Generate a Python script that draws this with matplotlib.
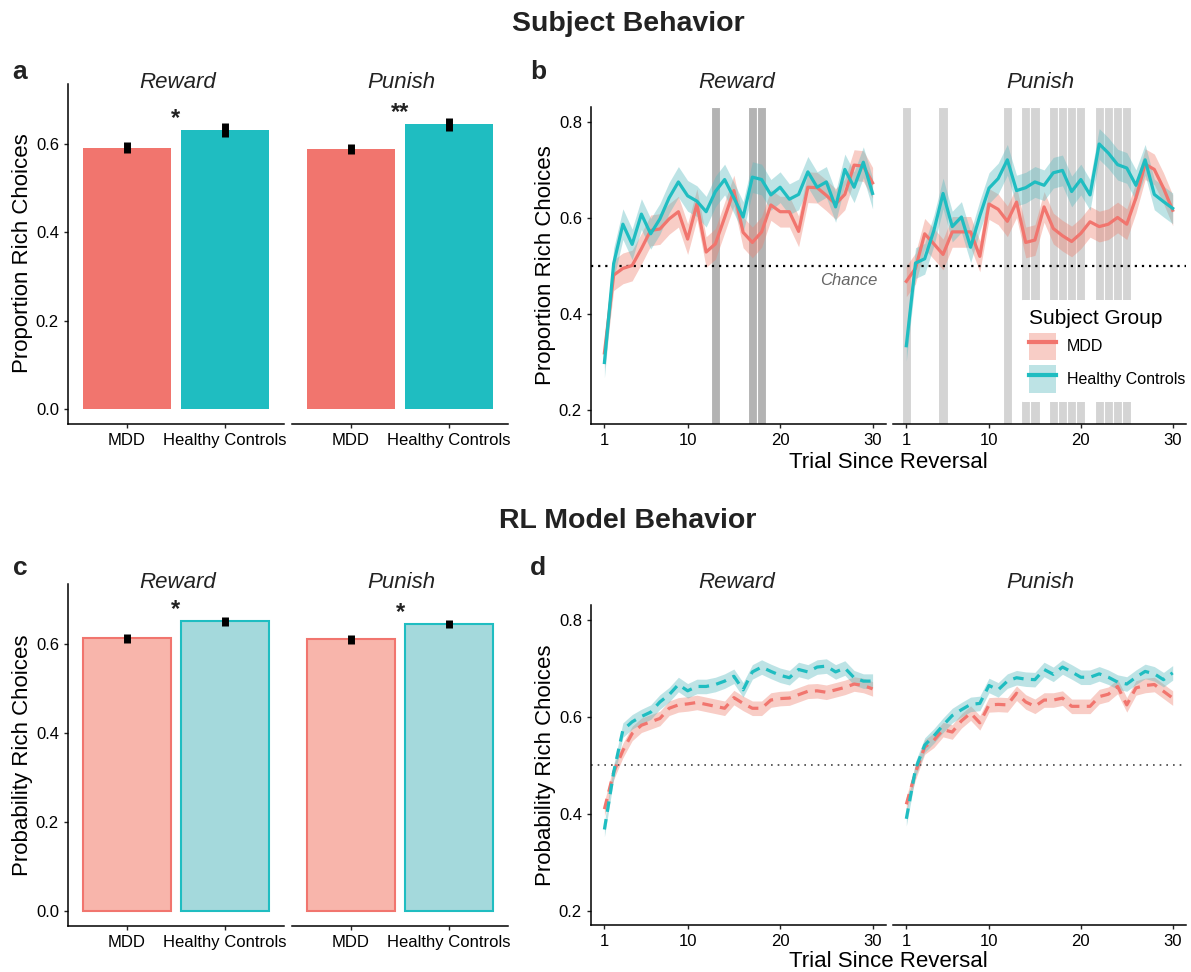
import matplotlib
matplotlib.use("Agg")
import matplotlib.pyplot as plt
import numpy as np
from matplotlib.patches import Patch
from matplotlib.lines import Line2D

plt.rcParams['font.family'] = ['Liberation Sans', 'DejaVu Sans']

# ---- data ----
groups = ['MDD', 'Healthy Controls']
conditions = ['Reward', 'Punish']
trials = np.arange(1, 31)

# panel a: observed proportion rich choices (mean, se)
subj_mean = {'Reward': [0.591, 0.631], 'Punish': [0.588, 0.644]}
subj_se = {'Reward': [0.012, 0.015], 'Punish': [0.012, 0.015]}
subj_stars = {'Reward': '*', 'Punish': '**'}

# panel c: model probability rich choices (mean, se)
model_mean = {'Reward': [0.613, 0.651], 'Punish': [0.611, 0.645]}
model_se = {'Reward': [0.010, 0.010], 'Punish': [0.010, 0.009]}
model_stars = {'Reward': '*', 'Punish': '*'}

# panel b: subject learning curves
subj_mdd_reward = [0.319, 0.481, 0.495, 0.501, 0.536, 0.574, 0.577, 0.598, 0.613, 0.556,
                   0.629, 0.529, 0.546, 0.601, 0.657, 0.570, 0.549, 0.571, 0.627, 0.613,
                   0.613, 0.572, 0.664, 0.663, 0.647, 0.629, 0.649, 0.710, 0.708, 0.673]
subj_hc_reward = [0.299, 0.505, 0.587, 0.545, 0.608, 0.567, 0.598, 0.642, 0.675, 0.646,
                  0.635, 0.613, 0.655, 0.680, 0.642, 0.602, 0.685, 0.680, 0.648, 0.664,
                  0.639, 0.649, 0.696, 0.664, 0.675, 0.623, 0.701, 0.664, 0.716, 0.651]
subj_mdd_punish = [0.468, 0.495, 0.567, 0.546, 0.524, 0.571, 0.571, 0.571, 0.520, 0.629,
                   0.618, 0.593, 0.633, 0.549, 0.554, 0.623, 0.578, 0.563, 0.551, 0.568,
                   0.592, 0.582, 0.587, 0.601, 0.587, 0.642, 0.712, 0.701, 0.662, 0.616]
subj_hc_punish = [0.334, 0.506, 0.515, 0.574, 0.651, 0.582, 0.602, 0.539, 0.604, 0.662,
                  0.682, 0.721, 0.657, 0.663, 0.675, 0.668, 0.694, 0.699, 0.655, 0.680,
                  0.648, 0.754, 0.735, 0.711, 0.704, 0.668, 0.721, 0.649, 0.634, 0.620]
subj_band = 0.032

# trials with significant group difference (shaded)
sig_reward = [13, 17, 18]
sig_punish = [1, 5, 12, 14, 15, 17, 18, 19, 20, 22, 23, 24, 25]

# panel d: model learning curves
model_mdd_reward = [0.410, 0.486, 0.531, 0.566, 0.583, 0.590, 0.597, 0.618, 0.625, 0.627,
                    0.630, 0.626, 0.622, 0.618, 0.640, 0.628, 0.618, 0.618, 0.635, 0.638,
                    0.639, 0.646, 0.653, 0.654, 0.651, 0.656, 0.661, 0.668, 0.665, 0.658]
model_hc_reward = [0.368, 0.486, 0.573, 0.590, 0.601, 0.610, 0.631, 0.646, 0.667, 0.654,
                   0.663, 0.663, 0.667, 0.674, 0.684, 0.656, 0.693, 0.703, 0.694, 0.686,
                   0.681, 0.698, 0.693, 0.703, 0.705, 0.693, 0.701, 0.681, 0.674, 0.674]
model_mdd_punish = [0.420, 0.486, 0.538, 0.552, 0.574, 0.569, 0.592, 0.608, 0.588, 0.625,
                    0.626, 0.625, 0.649, 0.631, 0.622, 0.635, 0.635, 0.639, 0.622, 0.622,
                    0.622, 0.642, 0.647, 0.663, 0.625, 0.660, 0.665, 0.667, 0.653, 0.639]
model_hc_punish = [0.390, 0.493, 0.542, 0.561, 0.583, 0.603, 0.615, 0.626, 0.628, 0.665,
                   0.656, 0.674, 0.681, 0.678, 0.677, 0.698, 0.688, 0.703, 0.693, 0.682,
                   0.682, 0.689, 0.682, 0.672, 0.668, 0.682, 0.694, 0.689, 0.677, 0.691]
model_band = 0.015

# ---- styling ----
red, teal = '#F1756E', '#1FBDC1'
red_rib, teal_rib = '#EE8272', '#5CBBC0'
red_light, teal_light = '#F8B5AB', '#A4D9DC'

W, H = 1191, 972
fig = plt.figure(figsize=(W / 100, H / 100), dpi=100)


def px_axes(l, t, r, b):
    return fig.add_axes([l / W, 1 - b / H, (r - l) / W, (b - t) / H])


def ftext(x, y, s, **kw):
    fig.text(x / W, 1 - y / H, s, **kw)


def style(ax, left=True):
    for s in ['top', 'right']:
        ax.spines[s].set_visible(False)
    ax.spines['left'].set_visible(left)
    ax.spines['bottom'].set_linewidth(1.1)
    ax.spines['left'].set_linewidth(1.1)
    ax.tick_params(labelsize=12, length=3, width=1, colors='#222222', labelcolor='black')
    if not left:
        ax.tick_params(axis='y', left=False, labelleft=False)


def bar_panel(top, bottom, means, ses, stars, light):
    xs = [(68, 284), (292, 508)]
    for i, cond in enumerate(conditions):
        ax = px_axes(xs[i][0], top, xs[i][1], bottom)
        if light:
            ax.bar([1, 2], means[cond], width=0.9, color=[red_light, teal_light],
                   edgecolor=[red, teal], linewidth=1.5)
        else:
            ax.bar([1, 2], means[cond], width=0.9, color=[red, teal])
        ax.errorbar([1, 2], means[cond], yerr=ses[cond], fmt='none',
                    ecolor='black', elinewidth=5, capsize=0, zorder=3)
        ax.text(1.5, max(means[cond]) + 0.027, stars[cond], ha='center', va='center',
                fontsize=17, fontweight='bold', color='#222222')
        ax.set_xlim(0.4, 2.6)
        ax.set_ylim(-0.034, 0.735)
        ax.set_xticks([1, 2])
        ax.set_xticklabels(groups)
        ax.set_yticks([0, 0.2, 0.4, 0.6])
        ax.set_yticklabels(['0.0', '0.2', '0.4', '0.6'])
        style(ax, left=(i == 0))


def curve_panel(top, bottom, series, band, dashed, sig=None):
    xs = [(591, 886), (893, 1186)]
    axes = []
    for i, cond in enumerate(conditions):
        ax = px_axes(xs[i][0], top, xs[i][1], bottom)
        if sig is not None:
            shade = '#B3B3B3' if cond == 'Reward' else '#D4D4D4'
            for t in sig[cond]:
                ax.axvspan(t - 0.5, t + 0.5, color=shade, ec='white', lw=0.8, zorder=0)
        mdd, hc = series[cond]
        for vals, c, rib in [(mdd, red, red_rib), (hc, teal, teal_rib)]:
            v = np.array(vals)
            ax.fill_between(trials, v - band, v + band, color=rib, alpha=0.4, lw=0, zorder=1)
            if dashed:
                ax.plot(trials, v, color=c, lw=2.3, dashes=(3.3, 2.3), zorder=2)
            else:
                ax.plot(trials, v, color=c, lw=2.3, zorder=2)
        if dashed:
            ax.axhline(0.5, color='#444444', lw=1.2, ls=(0, (1, 3)), zorder=1.5)
        else:
            ax.axhline(0.5, color='black', lw=1.6, ls=(0, (1, 2.2)), zorder=1.5)
        ax.set_xlim(-0.45, 31.45)
        ax.set_ylim(0.171, 0.831)
        ax.set_xticks([1, 10, 20, 30])
        ax.set_yticks([0.2, 0.4, 0.6, 0.8])
        style(ax, left=(i == 0))
        axes.append(ax)
    return axes


# panel a
bar_panel(84, 424, subj_mean, subj_se, subj_stars, light=False)
# panel c
bar_panel(584, 926, model_mean, model_se, model_stars, light=True)

# panel b
axb = curve_panel(107, 424, {'Reward': (subj_mdd_reward, subj_hc_reward),
                             'Punish': (subj_mdd_punish, subj_hc_punish)},
                  subj_band, dashed=False,
                  sig={'Reward': sig_reward, 'Punish': sig_punish})
axb[0].text(30.5, 0.485, 'Chance', ha='right', va='top', fontsize=12,
            style='italic', color='#666666')

handles = [(Patch(facecolor=red_rib, alpha=0.4), Line2D([], [], color=red, lw=3)),
           (Patch(facecolor=teal_rib, alpha=0.4), Line2D([], [], color=teal, lw=3))]
leg = axb[1].legend(handles, groups, title='Subject Group', loc='upper left',
                    bbox_to_anchor=(1020 / W, 1 - 300 / H), bbox_transform=fig.transFigure,
                    frameon=True, facecolor='white', edgecolor='none', framealpha=1,
                    fontsize=11.5, title_fontsize=15, handlelength=1.7, handleheight=2.3,
                    handletextpad=0.7, labelspacing=0.3, borderpad=0.55, borderaxespad=0)
leg._legend_box.align = 'left'
leg.set_zorder(10)

# panel d
curve_panel(605, 925, {'Reward': (model_mdd_reward, model_hc_reward),
                       'Punish': (model_mdd_punish, model_hc_punish)},
            model_band, dashed=True)

# text
for y, s in [(24, 'Subject Behavior'), (521, 'RL Model Behavior')]:
    ftext(628, y, s, ha='center', va='center', fontsize=20.5, fontweight='bold', color='#222222')
for x, y, s in [(20, 72, 'a'), (538, 72, 'b'), (20, 568, 'c'), (538, 568, 'd')]:
    ftext(x, y, s, ha='center', va='center', fontsize=19, fontweight='bold', color='#222222')
for y in [83, 582]:
    for x, s in [(178, 'Reward'), (401, 'Punish'), (737, 'Reward'), (1040, 'Punish')]:
        ftext(x, y, s, ha='center', va='center', fontsize=16, style='italic', color='#222222')
ftext(23, 253, 'Proportion Rich Choices', rotation=90, ha='center', va='center', fontsize=16)
ftext(23, 755, 'Probability Rich Choices', rotation=90, ha='center', va='center', fontsize=16)
ftext(546, 265, 'Proportion Rich Choices', rotation=90, ha='center', va='center', fontsize=16)
ftext(546, 765, 'Probability Rich Choices', rotation=90, ha='center', va='center', fontsize=16)
ftext(888, 463, 'Trial Since Reversal', ha='center', va='center', fontsize=16)
ftext(888, 961, 'Trial Since Reversal', ha='center', va='center', fontsize=16)

fig.savefig('out.png', dpi=100, facecolor='white')
